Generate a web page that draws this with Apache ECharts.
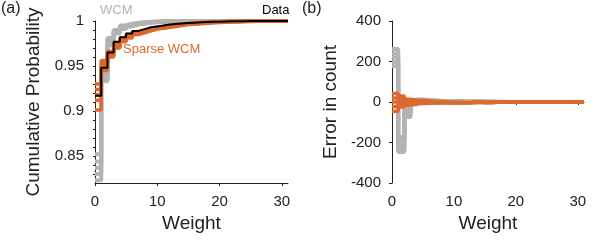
<!DOCTYPE html>
<html>
<head>
<meta charset="utf-8">
<script src="https://cdn.jsdelivr.net/npm/echarts@6/dist/echarts.min.js"></script>
<style>
    html, body { margin: 0; padding: 0; background: #fff; }
    #chart { width: 612px; height: 240px; }
</style>
</head>
<body>
<div id="chart"></div>
<script>
// weights (bins)
var weights = [0, 1, 2, 3, 4, 5, 6, 7, 8, 9, 10, 11, 12, 13, 14, 15, 16, 17, 18, 19, 20, 21, 22, 23, 24, 25, 26, 27, 28, 29, 30, 31];

// (a) cumulative probability
var dataCdf = [0.917, 0.948, 0.965, 0.977, 0.982, 0.986, 0.989, 0.991, 0.993, 0.994, 0.995, 0.996, 0.9966, 0.9972, 0.9977, 0.9981, 0.9985, 0.9988, 0.9991, 0.9993, 0.9995, 0.9996, 0.9997, 0.9998, 0.9999, 1, 1, 1, 1, 1, 1, 1];
var wcmCdf1 = [0.823, 0.933, 0.973, 0.986, 0.991, 0.994, 0.996, 0.997, 0.998, 0.9985, 0.9989, 0.9992, 0.9994, 0.9996, 0.9997, 0.9998, 0.9999, 0.9999, 1, 1, 1, 1, 1, 1, 1, 1, 1, 1, 1, 1, 1, 1];
var wcmCdf2 = [0.830, 0.935, 0.975, 0.987, 0.992, 0.995, 0.9965, 0.9975, 0.9983, 0.9988, 0.9991, 0.9993, 0.9995, 0.9997, 0.9998, 0.9999, 1, 1, 1, 1, 1, 1, 1, 1, 1, 1, 1, 1, 1, 1, 1, 1];
var wcmCdf3 = [0.837, 0.937, 0.977, 0.988, 0.993, 0.9955, 0.997, 0.998, 0.9986, 0.999, 0.9993, 0.9995, 0.9997, 0.9998, 0.9999, 1, 1, 1, 1, 1, 1, 1, 1, 1, 1, 1, 1, 1, 1, 1, 1, 1];
var wcmCdf4 = [0.844, 0.940, 0.979, 0.989, 0.994, 0.996, 0.9975, 0.9984, 0.999, 0.9993, 0.9995, 0.9997, 0.9998, 0.9999, 1, 1, 1, 1, 1, 1, 1, 1, 1, 1, 1, 1, 1, 1, 1, 1, 1, 1];
var wcmCdf5 = [0.852, 0.944, 0.981, 0.990, 0.995, 0.997, 0.998, 0.9987, 0.9992, 0.9995, 0.9997, 0.9998, 0.9999, 1, 1, 1, 1, 1, 1, 1, 1, 1, 1, 1, 1, 1, 1, 1, 1, 1, 1, 1];
var spCdf1 = [0.901, 0.945, 0.960, 0.970, 0.977, 0.981, 0.985, 0.987, 0.989, 0.991, 0.992, 0.993, 0.994, 0.995, 0.996, 0.9965, 0.997, 0.9975, 0.998, 0.9984, 0.9987, 0.999, 0.9992, 0.9994, 0.9995, 0.9996, 0.9997, 0.9998, 0.9999, 1, 1, 1];
var spCdf2 = [0.912, 0.948, 0.961, 0.971, 0.978, 0.982, 0.9855, 0.9875, 0.9895, 0.9915, 0.9925, 0.9935, 0.9945, 0.9955, 0.9963, 0.9969, 0.9974, 0.9978, 0.9982, 0.9986, 0.9989, 0.9991, 0.9993, 0.9995, 0.9996, 0.9997, 0.9998, 0.9999, 1, 1, 1, 1];
var spCdf3 = [0.918, 0.950, 0.962, 0.972, 0.979, 0.983, 0.986, 0.988, 0.990, 0.992, 0.993, 0.994, 0.995, 0.996, 0.9966, 0.9972, 0.9977, 0.9981, 0.9985, 0.9988, 0.9991, 0.9993, 0.9995, 0.9996, 0.9997, 0.9998, 0.9999, 1, 1, 1, 1, 1];
var spCdf4 = [0.924, 0.953, 0.964, 0.974, 0.980, 0.984, 0.987, 0.989, 0.991, 0.9925, 0.9935, 0.9945, 0.9955, 0.9963, 0.997, 0.9976, 0.998, 0.9984, 0.9987, 0.999, 0.9992, 0.9994, 0.9996, 0.9997, 0.9998, 0.9999, 1, 1, 1, 1, 1, 1];
var spCdf5 = [0.930, 0.956, 0.966, 0.975, 0.981, 0.985, 0.988, 0.990, 0.992, 0.993, 0.994, 0.995, 0.996, 0.9967, 0.9973, 0.9978, 0.9982, 0.9986, 0.9989, 0.9992, 0.9994, 0.9996, 0.9997, 0.9998, 0.9999, 1, 1, 1, 1, 1, 1, 1];

// (b) error in count
var wcmErr1 = [262, -247, -74, -12, 12, 10, 8, 6, 5, 4, 5, 3, 3, 4, 2, 2, 1, 1, 0, 0, 0, 0, 0, 0, 0, 0, 0, 0, 0, 0, 0, 0];
var wcmErr2 = [240, -228, -62, -7, 11, 9, 7, 5, 4, 4, 4, 3, 2, 3, 1, 1, 1, 0, 0, 0, 0, 0, 0, 0, 0, 0, 0, 0, 0, 0, 0, 0];
var wcmErr3 = [220, -210, -50, -2, 9, 8, 6, 5, 4, 3, 3, 2, 2, 2, 1, 1, 0, 0, 0, 0, 0, 0, 0, 0, 0, 0, 0, 0, 0, 0, 0, 0];
var wcmErr4 = [198, -190, -38, 2, 7, 7, 5, 4, 3, 3, 2, 2, 1, 1, 1, 0, 0, 0, 0, 0, 0, 0, 0, 0, 0, 0, 0, 0, 0, 0, 0, 0];
var wcmErr5 = [176, -173, -26, 5, 6, 6, 5, 4, 3, 2, 2, 1, 1, 1, 0, 0, 0, 0, 0, 0, 0, 0, 0, 0, 0, 0, 0, 0, 0, 0, 0, 0];
var spErr1 = [42, 30, 14, 10, 8, 5, 3, 2, 0, -2, -3, -4, -2, 1, -3, -2, -1, 0, 0, 0, 0, 0, 0, 0, 0, 0, 0, 0, 0, 0, 0, 0];
var spErr2 = [20, 14, 7, 5, 4, 2, 0, -1, -2, -3, -3, -4, -3, 0, -2, -2, -1, -1, 0, 0, 0, 0, 0, 0, 0, 0, 0, 0, 0, 0, 0, 0];
var spErr3 = [0, 2, 0, 0, -1, -2, -3, -3, -4, -4, -4, -4, -3, -1, -2, -2, -1, -1, 0, 0, 0, 0, 0, 0, 0, 0, 0, 0, 0, 0, 0, 0];
var spErr4 = [-22, -12, -6, -4, -4, -4, -4, -4, -4, -4, -4, -4, -3, -2, -3, -2, -1, -1, 0, 0, 0, 0, 0, 0, 0, 0, 0, 0, 0, 0, 0, 0];
var spErr5 = [-46, -25, -15, -10, -8, -6, -5, -4, -4, -3, -3, -2, -2, -1, -1, -1, 0, 0, 0, 0, 0, 0, 0, 0, 0, 0, 0, 0, 0, 0, 0, 0];

// ticks
var xTicks = [0, 10, 20, 30];
var yTicksA = [0.85, 0.9, 0.95, 1];
var yMinorA = [0.83, 0.84, 0.85, 0.86, 0.87, 0.88, 0.89, 0.9, 0.91, 0.92, 0.93, 0.94, 0.95, 0.96, 0.97, 0.98, 0.99, 1];
var yTicksB = [-400, -200, 0, 200, 400];

var GRAY = '#b3b3b3';
var ORANGE = '#dc6a2d';
var FONT = 'Liberation Sans';

function toPairs(vals) {
    return weights.map(function (w, i) { return [w, vals[i]]; });
}

function stepLine(vals, color, width, axisIdx) {
    return {
        type: 'line',
        step: 'end',
        data: toPairs(vals),
        xAxisIndex: axisIdx,
        yAxisIndex: axisIdx,
        showSymbol: false,
        silent: true,
        lineStyle: { color: color, width: width },
        animation: false
    };
}

function xAxisCfg(idx) {
    return {
        type: 'value',
        gridIndex: idx,
        min: 0,
        max: 31,
        name: 'Weight',
        nameLocation: 'middle',
        nameGap: 28,
        nameTextStyle: { fontFamily: FONT, fontSize: 19, color: '#222' },
        axisLine: { lineStyle: { color: '#222', width: 1 } },
        axisTick: { customValues: xTicks, length: 3, lineStyle: { color: '#222' } },
        axisLabel: { customValues: xTicks, fontFamily: FONT, fontSize: 15, color: '#222', margin: 11 },
        splitLine: { show: false }
    };
}

var series = [];
[wcmCdf1, wcmCdf2, wcmCdf3, wcmCdf4, wcmCdf5].forEach(function (v) { series.push(stepLine(v, GRAY, 4, 0)); });
[spCdf1, spCdf2, spCdf3, spCdf4, spCdf5].forEach(function (v) { series.push(stepLine(v, ORANGE, 3.5, 0)); });
series.push(stepLine(dataCdf, '#000', 2, 0));
[wcmErr1, wcmErr2, wcmErr3, wcmErr4, wcmErr5].forEach(function (v) { series.push(stepLine(v, GRAY, 4, 1)); });
[spErr1, spErr2, spErr3, spErr4, spErr5].forEach(function (v) { series.push(stepLine(v, ORANGE, 3.5, 1)); });

var chart = echarts.init(document.getElementById('chart'));
chart.setOption({
    backgroundColor: '#fff',
    animation: false,
    grid: [
        { left: 95, right: 324, top: 21, bottom: 57 },
        { left: 392, right: 28, top: 21, bottom: 57 }
    ],
    xAxis: [xAxisCfg(0), xAxisCfg(1)],
    yAxis: [
        {
            type: 'value',
            gridIndex: 0,
            min: 0.82,
            max: 1,
            name: 'Cumulative Probability',
            nameLocation: 'middle',
            nameGap: 52,
            nameTextStyle: { fontFamily: FONT, fontSize: 19, color: '#222' },
            axisLine: { show: true, lineStyle: { color: '#222', width: 1 } },
            axisTick: { show: true, customValues: yMinorA, length: 2, lineStyle: { color: '#222' } },
            axisLabel: { customValues: yTicksA, fontFamily: FONT, fontSize: 15, color: '#222', margin: 11 },
            splitLine: { show: false }
        },
        {
            type: 'value',
            gridIndex: 1,
            min: -400,
            max: 400,
            name: 'Error in count',
            nameLocation: 'middle',
            nameGap: 52,
            nameTextStyle: { fontFamily: FONT, fontSize: 19, color: '#222' },
            axisLine: { show: true, lineStyle: { color: '#222', width: 1 } },
            axisTick: { show: true, customValues: yTicksB, length: 3, lineStyle: { color: '#222' } },
            axisLabel: { customValues: yTicksB, fontFamily: FONT, fontSize: 15, color: '#222', margin: 11 },
            splitLine: { show: false }
        }
    ],
    graphic: [
        { type: 'text', left: 1, top: 1, style: { text: '(a)', font: '16px "Liberation Sans"', fill: '#222' } },
        { type: 'text', left: 302, top: 1, style: { text: '(b)', font: '16px "Liberation Sans"', fill: '#222' } },
        { type: 'text', left: 100, top: 4, style: { text: 'WCM', font: '13px "Liberation Sans"', fill: GRAY } },
        { type: 'text', left: 262, top: 4, style: { text: 'Data', font: '13px "Liberation Sans"', fill: '#000' } },
        { type: 'text', left: 123, top: 43, style: { text: 'Sparse WCM', font: '13px "Liberation Sans"', fill: ORANGE } }
    ],
    series: series
});
</script>
</body>
</html>
